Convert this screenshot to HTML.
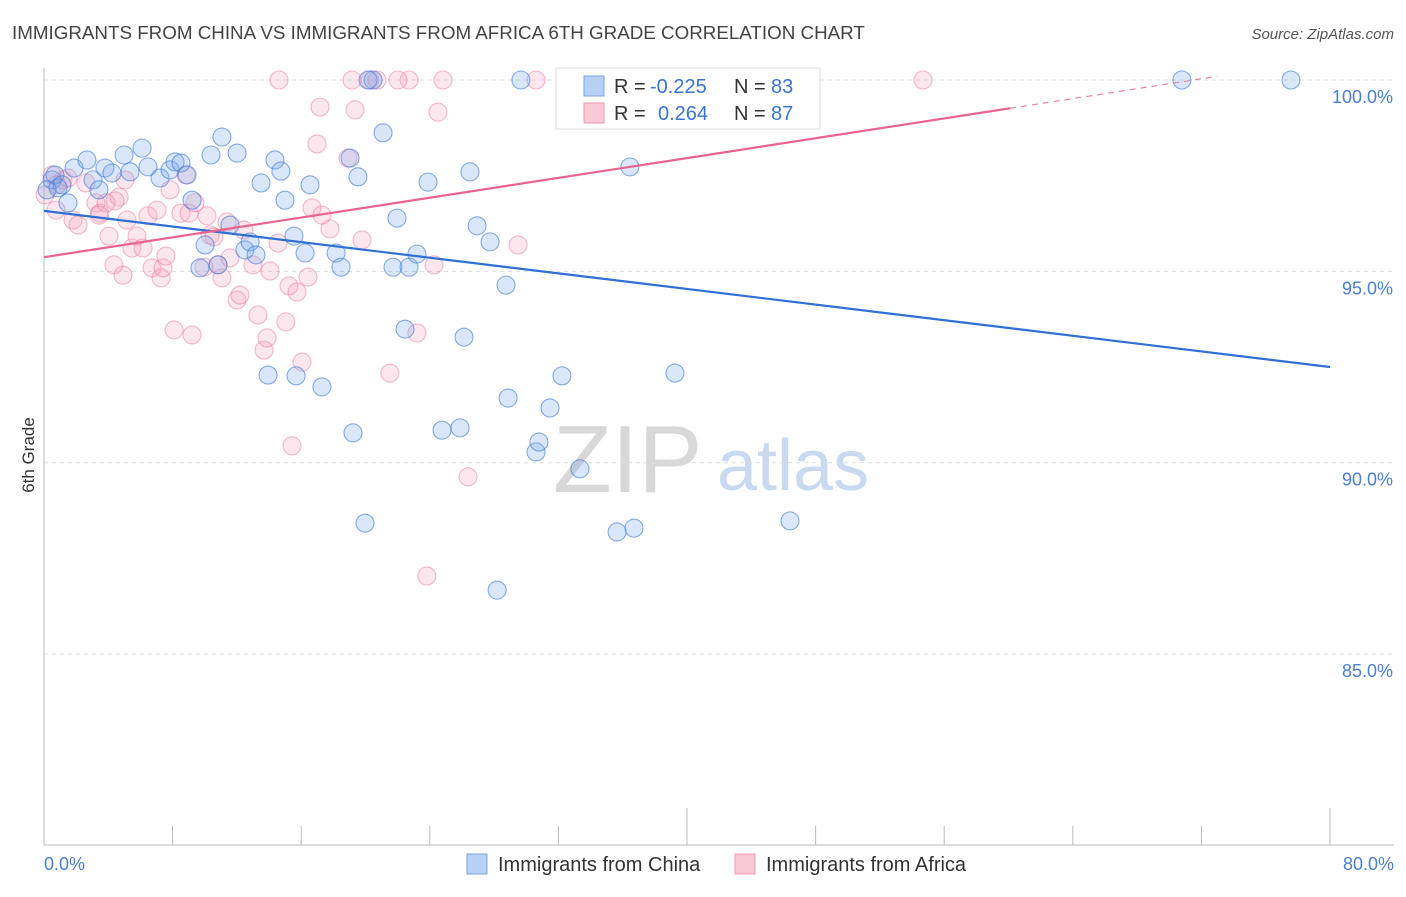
<!DOCTYPE html>
<html><head><meta charset="utf-8"><style>
body{margin:0;background:#fff;font-family:"Liberation Sans",sans-serif;}
svg text{font-family:"Liberation Sans",sans-serif;}
</style></head><body>
<svg width="1406" height="892" viewBox="0 0 1406 892">
<text x="12" y="39" font-size="18.8" fill="#444">IMMIGRANTS FROM CHINA VS IMMIGRANTS FROM AFRICA 6TH GRADE CORRELATION CHART</text>
<text x="1394" y="39" font-size="15" fill="#555" font-style="italic" text-anchor="end">Source: ZipAtlas.com</text>
<text x="34" y="455" font-size="17" fill="#333" text-anchor="middle" transform="rotate(-90 34 455)">6th Grade</text>
<g><text x="553" y="492" font-size="96" font-family="Liberation Serif" fill="#d8d8d8">ZIP</text><text x="717" y="490" font-size="72" fill="#c8d9f0">atlas</text></g>
<g id="grid"></g><g id="axes"></g><g id="pts"></g><g id="lines"></g>
<g>
<rect x="556" y="68" width="264" height="61" fill="#fff" stroke="#ddd"/>
<rect x="584" y="76" width="20" height="20" fill="#b7d0f5" stroke="#7aa6e6"/>
<text x="614" y="93" font-size="20" fill="#333">R = </text><text x="650" y="93" font-size="20" fill="#3a74d4">-0.225</text>
<text x="734" y="93" font-size="20" fill="#333">N = </text><text x="771" y="93" font-size="20" fill="#3a74d4">83</text>
<rect x="584" y="103" width="20" height="20" fill="#fbc8d6" stroke="#ee9ab2"/>
<text x="614" y="120" font-size="20" fill="#333">R = </text><text x="658" y="120" font-size="20" fill="#3a74d4">0.264</text>
<text x="734" y="120" font-size="20" fill="#333">N = </text><text x="771" y="120" font-size="20" fill="#3a74d4">87</text>
</g>
<g>
<rect x="467" y="854" width="20" height="20" fill="#b7d0f5" stroke="#7aa6e6"/>
<text x="498" y="871" font-size="20" fill="#333">Immigrants from China</text>
<rect x="735" y="854" width="20" height="20" fill="#fbc8d6" stroke="#ee9ab2"/>
<text x="766" y="871" font-size="20" fill="#333">Immigrants from Africa</text>
</g>
</svg>
<script>
const yTicks=[100,95,90,85];
const xTickLabels=["0.0%","80.0%"];
const chinaX=[0.50,0.87,1.49,1.87,2.67,3.05,3.42,3.79,4.23,4.98,5.35,6.10,6.47,7.22,7.84,8.15,8.52,8.90,9.21,9.70,10.02,10.39,10.83,11.07,11.57,12.01,12.50,12.82,13.19,13.50,13.94,14.37,14.74,14.99,15.55,15.68,16.24,16.55,17.29,18.17,18.48,19.22,19.04,19.53,19.97,21.09,21.71,21.96,22.46,22.71,23.20,23.89,24.76,25.88,26.13,26.50,26.94,27.75,28.19,28.74,28.87,29.67,30.61,30.79,31.48,32.22,33.34,35.65,36.45,36.70,39.25,46.41,70.79,77.57,20.47,20.16,34.65,0.68,1.12,0.19];
const chinaY=[97.39,97.18,96.79,97.70,97.91,97.39,97.13,97.70,97.57,98.04,97.60,98.22,97.73,97.44,97.65,97.86,97.83,97.52,96.86,95.09,95.69,98.04,95.17,98.51,96.21,98.09,95.56,95.77,95.43,97.31,92.29,97.91,97.62,96.86,95.92,92.27,95.48,97.26,91.98,95.48,95.11,90.78,97.96,97.47,88.42,98.62,95.11,96.39,93.49,95.11,95.45,97.33,90.85,90.91,93.28,97.60,96.19,95.77,86.67,94.64,91.69,100,90.28,90.54,91.43,92.27,89.84,88.19,97.73,88.29,92.34,88.48,100,100,100,100,100,97.52,97.26,97.13];
const africaX=[0.50,0.81,1.18,1.49,1.80,2.12,2.61,3.23,3.48,3.86,4.04,4.35,4.67,4.91,5.16,5.47,5.79,6.16,6.47,6.72,7.03,7.28,7.40,7.59,7.84,8.09,8.52,8.83,9.02,9.21,9.39,9.95,10.14,10.33,10.58,10.82,11.07,11.38,11.57,12.01,12.19,12.44,13.00,13.31,13.69,13.87,14.06,14.56,15.05,15.24,15.43,15.74,16.05,16.42,16.67,16.98,17.17,17.29,17.79,18.91,19.16,19.35,19.78,20.28,20.72,21.52,22.02,22.71,23.20,23.82,24.26,24.51,24.82,26.38,29.49,30.61,32.97,54.68,14.62,0.06,3.42,0.75,4.42,5.04];
const africaY=[97.52,97.26,97.39,97.44,96.34,96.21,97.31,96.79,96.52,96.79,95.92,95.17,96.94,94.90,96.34,95.61,95.92,95.61,96.45,95.09,96.60,94.83,95.09,95.40,97.13,93.47,96.52,97.52,96.52,93.34,96.79,95.11,96.45,95.95,95.90,95.17,94.83,96.29,95.35,94.25,94.38,96.08,95.17,93.86,92.94,93.26,95.01,95.74,93.68,94.62,90.44,94.46,92.63,94.85,96.66,98.33,99.29,96.47,96.11,97.96,100,99.22,95.82,100,100,92.34,100,100,93.39,87.04,95.17,99.16,100,89.63,95.69,100,100,100,100,97.00,96.47,96.60,96.84,97.39];
const chinaTrend=[96.58,92.50];
const africaTrend=[95.37,100.55];
const africaSolidEnd=60.1, africaDashEnd=73;
const NS="http://www.w3.org/2000/svg";
const X=v=>44+v/80*1286, Y=v=>80+(100-v)*38.27;
function mk(t,a,p){const e=document.createElementNS(NS,t);for(const k in a)e.setAttribute(k,a[k]);p.appendChild(e);return e;}
const grid=document.getElementById('grid'),axes=document.getElementById('axes'),pts=document.getElementById('pts'),lines=document.getElementById('lines');
yTicks.forEach(t=>{
 const l=mk('line',{x1:44,x2:1394,y1:Y(t),y2:Y(t),stroke:'#ddd','stroke-dasharray':'4 4'},grid);
 
 
 const tx=mk('text',{x:1393,y:Y(t)+23,'font-size':18,fill:'#4a7fd4','text-anchor':'end'},grid);
 tx.textContent=t.toFixed(1)+'%';
 
 
});
const ya=mk('line',{x1:44,x2:44,y1:68,y2:845,stroke:'#bbb'},axes);


const xa=mk('line',{x1:44,x2:1394,y1:845,y2:845,stroke:'#bbb'},axes);


for(let i=0;i<=10;i++){const v=i*8;const tk=mk('line',{x1:X(v),x2:X(v),y1:(i%5==0)?808:826,y2:845,stroke:'#bbb'},axes);
 
 }
[[0,'start',44],[80,'end',1394]].forEach((d,i)=>{const t=mk('text',{x:d[2],y:870,'font-size':18,fill:'#4a7fd4','text-anchor':d[1]},axes);t.textContent=xTickLabels[i];
 
 });
function series(xs,ys,fill,stroke,name){xs.forEach((x,i)=>{const c=mk('circle',{cx:X(x),cy:Y(ys[i]),r:9,fill:fill,stroke:stroke,'stroke-width':1.1},pts);
 
 });}
series(africaX,africaY,'rgba(246,160,186,0.25)','rgba(232,120,155,0.5)','africa-point');
series(chinaX,chinaY,'rgba(120,165,235,0.27)','rgba(60,120,215,0.6)','china-point');
const ct=mk('line',{x1:X(0),y1:Y(chinaTrend[0]),x2:X(80),y2:Y(chinaTrend[1]),stroke:'#2f6fd6','stroke-width':2.2},lines);


const ay=v=>africaTrend[0]+(africaTrend[1]-africaTrend[0])*v/80;
const at=mk('line',{x1:X(0),y1:Y(ay(0)),x2:X(africaSolidEnd),y2:Y(ay(africaSolidEnd)),stroke:'#e8648f','stroke-width':2.2},lines);


const ad=mk('line',{x1:X(africaSolidEnd),y1:Y(ay(africaSolidEnd)),x2:X(africaDashEnd),y2:Y(ay(africaDashEnd)),stroke:'#e8849f','stroke-width':1.2,'stroke-dasharray':'6 5'},lines);


</script>
</body></html>
